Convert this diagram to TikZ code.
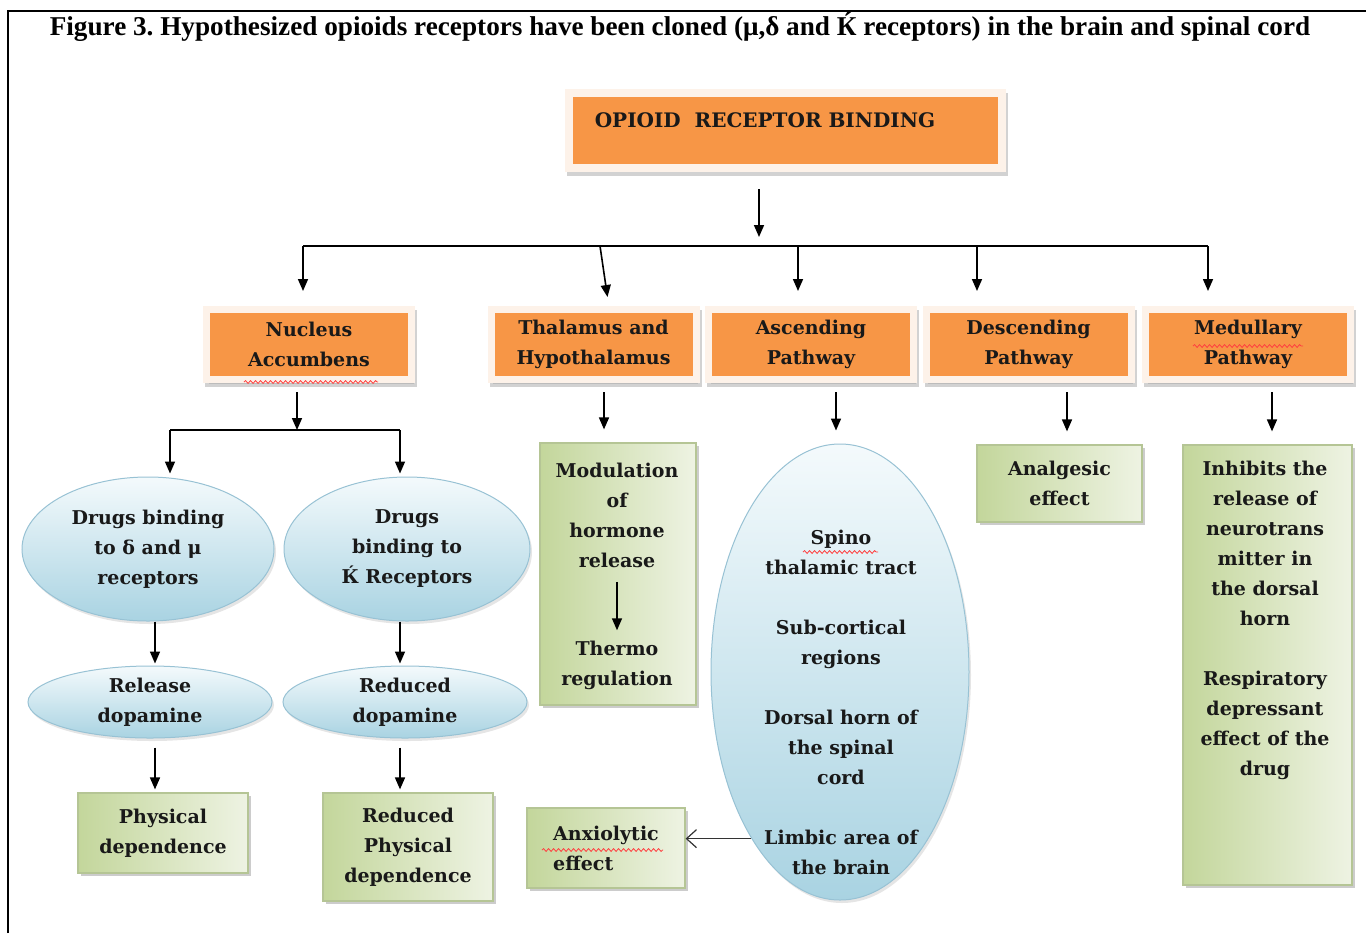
\documentclass[tikz,border=0pt]{standalone}
\usepackage{fontspec}
\newfontfamily\diagfont{DejaVu Serif}
\newfontfamily\titlefont{Liberation Serif}
\usetikzlibrary{arrows.meta,shadows,calc,shapes.geometric,decorations.pathmorphing}
\frenchspacing

\definecolor{boxorange}{HTML}{F79646}
\definecolor{framepeach}{HTML}{FDF2E9}
\definecolor{greenleft}{HTML}{C3D69B}
\definecolor{greenright}{HTML}{EEF3E3}
\definecolor{greenedge}{HTML}{B5C595}
\definecolor{bluetop}{HTML}{F4FAFC}
\definecolor{bluebottom}{HTML}{A9D3E2}
\definecolor{blueedge}{HTML}{98C2D4}

\newcommand{\bodytext}{\bfseries\fontsize{9.5pt}{15pt}\selectfont}

\tikzset{
  arr/.style={-{Triangle[length=6pt,width=5pt]}, line width=0.8pt},
  barb/.style={-{Straight Barb[length=5pt,width=9pt]}, line width=0.6pt, black!80},
  orangebox/.style={rectangle, fill=boxorange, draw=framepeach, line width=3.5pt,
    minimum width=102.5pt, minimum height=35pt, inner sep=0pt, align=center,
    drop shadow={shadow xshift=1pt, shadow yshift=-2pt, fill=black!35, draw=black!35, opacity=0.5}},
  greenbox/.style={rectangle, left color=greenleft, right color=greenright, draw=greenedge,
    line width=0.6pt, inner sep=0pt, align=center,
    drop shadow={shadow xshift=1.5pt, shadow yshift=-1.5pt, fill=black!40, opacity=0.5}},
  blueell/.style={ellipse, top color=bluetop, bottom color=bluebottom, draw=blueedge,
    line width=0.5pt, inner sep=0pt, align=center,
    drop shadow={shadow xshift=1pt, shadow yshift=-1.5pt, fill=black!25, opacity=0.4}},
  txt/.style={align=center, inner sep=0pt},
  squiggle/.style={red!75, line width=0.4pt, decorate,
    decoration={snake, amplitude=0.7pt, segment length=2.5pt}}
}

\begin{document}
\begin{tikzpicture}[x=0.5pt, y=-0.5pt, font=\diagfont\bodytext, text=black!90]
    \useasboundingbox (0,0) rectangle (1366,933);

    % Draw the frame and the title
    \draw[line width=1.2pt] (8,933) -- (8,11) -- (1366,11);
    \node[anchor=base, text=black, font=\titlefont\bfseries\fontsize{13.6pt}{15pt}\selectfont] (title) at (680,35)
        {Figure 3. Hypothesized opioids receptors have been cloned (μ,δ and Ќ receptors) in the brain and spinal cord};

    % Top box
    \node[orangebox, line width=4pt, minimum width=216.5pt, minimum height=37.5pt] (top) at (785.5,130.5) {};
    \node[txt, font=\diagfont\bfseries\fontsize{10pt}{15pt}\selectfont] (toptxt) at (765,120) {OPIOID\ \ RECEPTOR BINDING};

    % Second row of boxes
    \foreach \name/\x/\lbl in {nucleus/309/{Nucleus\\Accumbens}, thalamus/593.5/{Thalamus and\\Hypothalamus},
        ascending/811/{Ascending\\Pathway}, descending/1028.5/{Descending\\Pathway}, medullary/1248/{Medullary\\Pathway}}
        \node[orangebox] (\name) at (\x,344.5) {\lbl};

    % Draw the bus and the arrows into the second row
    \coordinate (busmid) at (759,246);
    \foreach \name/\x in {nucleus/303, thalamus/600, ascending/798, descending/977, medullary/1208}
        \coordinate (tap-\name) at (\x,246);
    \draw[line width=1.2pt] (tap-nucleus) -- (tap-medullary);
    \draw[arr, shorten <=8.5pt, shorten >=4.5pt] (top.south -| busmid) -- (busmid);
    \foreach \name in {nucleus, ascending, descending, medullary}
        \draw[arr, shorten >=7.5pt] (tap-\name) -- (tap-\name |- \name.north);
    \draw[arr] (tap-thalamus) -- ([xshift=7pt, yshift=4.5pt]thalamus.north);

    % Nucleus accumbens branch
    \node[blueell, minimum width=126pt, minimum height=72pt] (drugsdm) at (148,549) {Drugs binding\\to δ and μ\\receptors};
    \node[blueell, minimum width=123pt, minimum height=72pt] (drugsk) at (407,549) {Drugs\\binding to\\Ќ Receptors};
    \node[blueell, minimum width=122pt, minimum height=36pt] (release) at (150,702) {Release\\dopamine};
    \node[blueell, minimum width=122pt, minimum height=36pt] (reduced) at (405,702) {Reduced\\dopamine};
    \node[greenbox, minimum width=85pt, minimum height=40pt] (physdep) at (163,833) {Physical\\dependence};
    \node[greenbox, minimum width=85pt, minimum height=54pt] (redphys) at (408,847) {Reduced\\Physical\\dependence};

    \coordinate (split) at (297,430);
    \coordinate (splitL) at (170,430);
    \coordinate (splitR) at (400,430);
    \draw[arr, shorten <=4.5pt] ([xshift=-6pt]nucleus.south) -- (split);
    \draw[line width=1.2pt] (splitL) -- (splitR);
    \draw[arr, shorten >=1.5pt] (splitL) -- (splitL |- drugsdm.north);
    \draw[arr, shorten >=1.5pt] (splitR) -- (splitR |- drugsk.north);
    \draw[arr, shorten >=1pt] ([xshift=3.5pt]drugsdm.south) coordinate (d1) -- (d1 |- release.north);
    \draw[arr, shorten >=1pt] ([xshift=-3.5pt]drugsk.south) coordinate (d2) -- (d2 |- reduced.north);
    \draw[arr, shorten <=4.5pt, shorten >=1.5pt] ([xshift=2.5pt]release.south) coordinate (d3) -- (d3 |- physdep.north);
    \draw[arr, shorten <=4.5pt, shorten >=1.5pt] ([xshift=-2.5pt]reduced.south) coordinate (d4) -- (d4 |- redphys.north);

    % Thalamus branch
    \node[greenbox, minimum width=78pt, minimum height=131pt] (modbox) at (618,574) {};
    \node[txt] (modtxt) at (617,515) {Modulation\\of\\hormone\\release};
    \node[txt] (thermo) at (617,665) {Thermo\\regulation};
    \draw[arr, shorten <=7pt, shorten >=5pt] (modtxt.south) -- (thermo.north);

    % Ascending branch
    \node[blueell, minimum width=129pt, minimum height=228pt] (ascell) at (840,672) {};
    \node[txt] (asctxt) at (841,702.5) {Spino\\thalamic tract\\[15pt]Sub-cortical\\regions\\[15pt]Dorsal horn of\\the spinal\\cord\\[15pt]Limbic area of\\the brain};
    \node[greenbox, align=left, minimum width=79pt, minimum height=40pt] (anxio) at (606,848) {Anxiolytic\\effect};
    \draw[barb] (ascell.242) -- (ascell.242 -| anxio.east);

    % Descending and medullary branches
    \node[greenbox, minimum width=82.5pt, minimum height=38.5pt] (analg) at (1059.5,483.5) {Analgesic\\effect};
    \node[greenbox, minimum width=84.5pt, minimum height=220pt] (inhbox) at (1267.5,665) {};
    \node[txt] (inhtxt) at (1265,620) {Inhibits the\\release of\\neurotrans\\mitter in\\the dorsal\\horn\\[15pt]Respiratory\\depressant\\effect of the\\drug};

    \foreach \src/\dst/\dx in {thalamus/modbox/5.25pt, ascending/ascell/12.5pt, descending/analg/19.25pt, medullary/inhbox/12pt}
        \draw[arr, shorten <=4.5pt, shorten >=6.5pt] ([xshift=\dx]\src.south) coordinate (out-\src) -- (out-\src |- \dst.north);

    % Spelling marks
    \draw[squiggle] (244,382) -- (378,382);
    \draw[squiggle] (1193,346) -- (1303,346);
    \draw[squiggle] (803,552) -- (878,552);
    \draw[squiggle] (542,850) -- (663,850);
\end{tikzpicture}
\end{document}
